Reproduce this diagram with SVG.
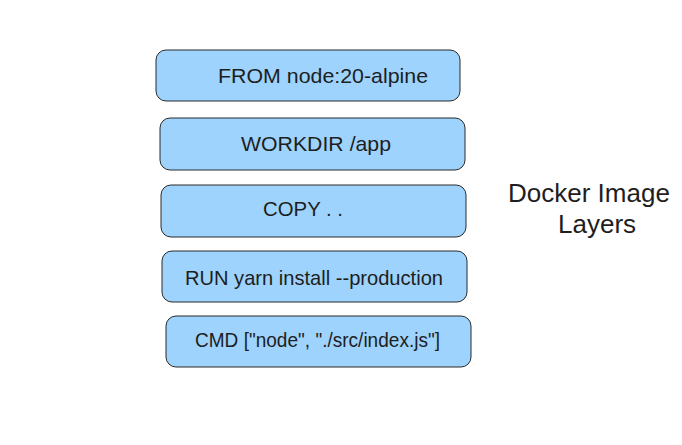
<svg xmlns="http://www.w3.org/2000/svg" width="682" height="445" viewBox="0 0 682 445">
<style>
.box{fill:#9dd3fc;stroke:#2a2a2a;stroke-width:1}
.t{font-family:"Liberation Sans",Arial,Helvetica,sans-serif;font-size:21px;fill:#1e1e1e}
.title{font-family:"Liberation Sans",Arial,Helvetica,sans-serif;font-size:26px;fill:#1e1e1e}
</style>
<rect width="682" height="445" fill="#ffffff"/>
<g id="from">
<rect class="box" x="156" y="50" width="304" height="51" rx="10"/>
<text class="t" x="218" y="83" textLength="210" lengthAdjust="spacingAndGlyphs">FROM node:20-alpine</text>
</g>
<g id="workdir">
<rect class="box" x="160" y="118" width="305" height="52" rx="10"/>
<text class="t" x="241" y="151" textLength="150" lengthAdjust="spacingAndGlyphs">WORKDIR /app</text>
</g>
<g id="copy">
<rect class="box" x="161" y="185" width="305" height="52" rx="10"/>
<text class="t" x="263" y="216" textLength="80" lengthAdjust="spacingAndGlyphs">COPY . .</text>
</g>
<g id="run">
<rect class="box" x="162" y="251" width="305" height="51" rx="10"/>
<text class="t" x="185" y="285" textLength="258" lengthAdjust="spacingAndGlyphs">RUN yarn install --production</text>
</g>
<g id="cmd">
<rect class="box" x="166" y="316" width="305" height="51" rx="10"/>
<text class="t" x="195" y="347" textLength="245" lengthAdjust="spacingAndGlyphs">CMD ["node", "./src/index.js"]</text>
</g>
<g id="title">
<text class="title" x="508" y="202">Docker Image</text>
<text class="title" x="558" y="233">Layers</text>
</g>
<g id="connectors"/>
</svg>
